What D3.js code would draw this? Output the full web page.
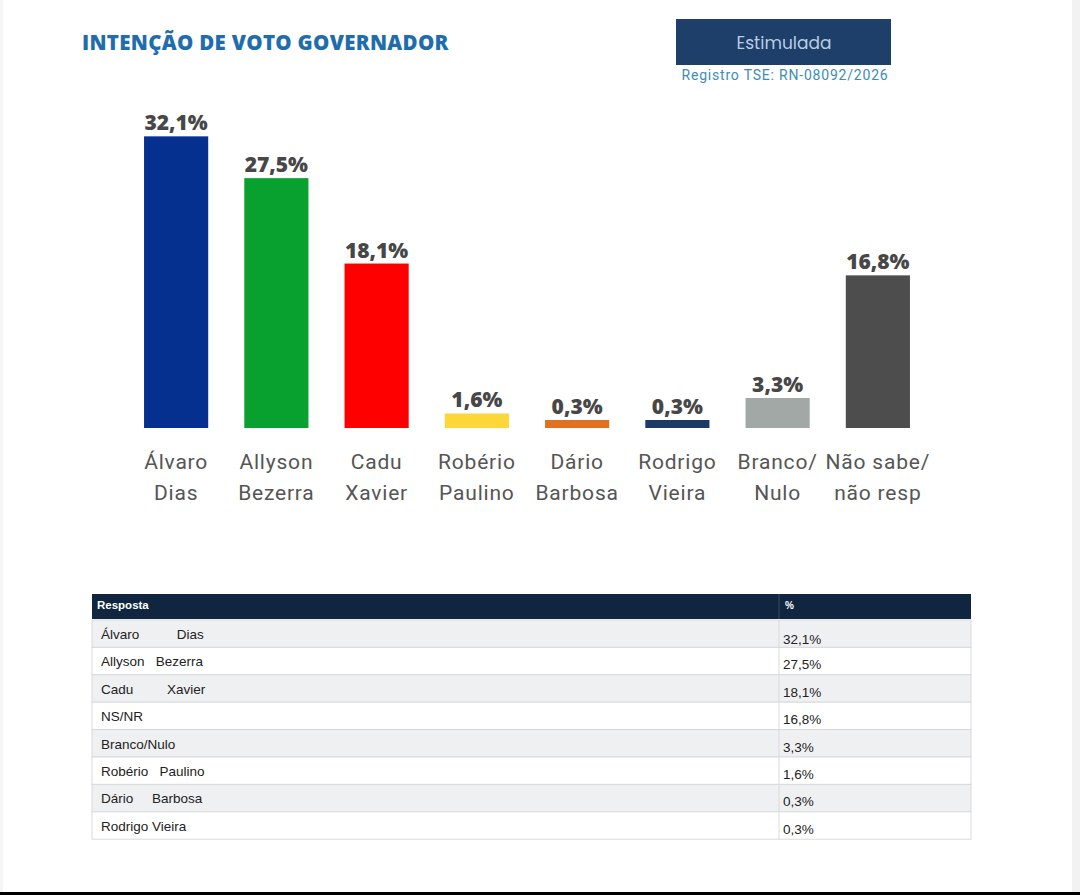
<!DOCTYPE html>
<html>
<head>
<meta charset="utf-8">
<script src="https://cdn.jsdelivr.net/npm/d3@7"></script>
<style>
  html, body { margin: 0; padding: 0; background: #fff; }
  svg { display: block; }
</style>
</head>
<body>
<svg id="chart" width="1080" height="895"></svg>
<script>
// chart data
const CANDIDATES = [
    ['Álvaro', 'Dias'],
    ['Allyson', 'Bezerra'],
    ['Cadu', 'Xavier'],
    ['Robério', 'Paulino'],
    ['Dário', 'Barbosa'],
    ['Rodrigo', 'Vieira'],
    ['Branco/', 'Nulo'],
    ['Não sabe/', 'não resp']
];
const VALUES = [32.1, 27.5, 18.1, 1.6, 0.3, 0.3, 3.3, 16.8];
const COLORS = ['#06308f', '#08a02e', '#ff0000', '#fdd63a', '#e0711f', '#1d3a66', '#a2a8a6', '#4d4d4d'];

// table data
const TABLE_NAMES = ['Álvaro          Dias', 'Allyson   Bezerra', 'Cadu         Xavier', 'NS/NR',
    'Branco/Nulo', 'Robério   Paulino', 'Dário     Barbosa', 'Rodrigo Vieira'];
const TABLE_VALUES = [32.1, 27.5, 18.1, 16.8, 3.3, 1.6, 0.3, 0.3];

const SVG1 = d3.select('#chart');
const BASELINE = 428;
const MIN_BAR = 8;

const ptBR = d3.formatLocale({decimal: ',', thousands: '.', grouping: [3], currency: ['R$', '']});
const fmt = v => ptBR.format('.1f')(v) + '%';

// page frame bits (gray edge on the right, black strip at the bottom)
SVG1.append('rect').attr('x', 1072).attr('y', 0).attr('width', 8).attr('height', 895).style('fill', '#f2f2f2');
SVG1.append('rect').attr('x', 0).attr('y', 0).attr('width', 3).attr('height', 895).style('fill', '#f4f4f4');
SVG1.append('rect').attr('x', 0).attr('y', 892).attr('width', 1080).attr('height', 3).style('fill', '#000');

// title
SVG1.append('text')
    .attr('x', 82)
    .attr('y', 50)
    .text('INTENÇÃO DE VOTO GOVERNADOR')
    .style('font-family', '"Open Sans", sans-serif')
    .style('font-weight', '800')
    .style('font-size', '20.5px')
    .style('letter-spacing', '0.3px')
    .style('fill', '#1f6dad');

// Estimulada badge
SVG1.append('rect')
    .attr('x', 676).attr('y', 19).attr('width', 215).attr('height', 46)
    .style('fill', '#1d3f69');
SVG1.append('text')
    .attr('x', 784).attr('y', 49)
    .attr('text-anchor', 'middle')
    .text('Estimulada')
    .style('font-family', 'Poppins, "Open Sans", sans-serif')
    .style('font-size', '17px')
    .style('fill', '#b9cde2');
SVG1.append('text')
    .attr('x', 785).attr('y', 80)
    .attr('text-anchor', 'middle')
    .text('Registro TSE: RN-08092/2026')
    .style('font-family', 'Roboto, sans-serif')
    .style('font-size', '14px')
    .style('letter-spacing', '0.8px')
    .style('fill', '#3d8db5');

// scales
const X_SCALE = d3.scaleBand()
    .domain(d3.range(VALUES.length))
    .range([126, 928])
    .paddingInner(0.36)
    .paddingOuter(0.18);

const Y_SCALE = d3.scaleLinear()
    .domain([0, 35])
    .range([BASELINE, 110]);

const barTop = v => Math.min(Y_SCALE(v), BASELINE - MIN_BAR);

// bars
SVG1.append('g')
    .attr('id', 'bars')
    .selectAll('rect')
    .data(VALUES)
    .join('rect')
    .attr('x', (d, i) => X_SCALE(i))
    .attr('y', d => barTop(d))
    .attr('width', X_SCALE.bandwidth())
    .attr('height', d => BASELINE - barTop(d))
    .style('fill', (d, i) => COLORS[i]);

// values above bars
SVG1.append('g')
    .attr('id', 'barValues')
    .selectAll('text')
    .data(VALUES)
    .join('text')
    .attr('x', (d, i) => X_SCALE(i) + X_SCALE.bandwidth() / 2)
    .attr('y', d => barTop(d) - 6)
    .attr('text-anchor', 'middle')
    .text(d => fmt(d))
    .style('font-family', '"Open Sans", sans-serif')
    .style('font-weight', '800')
    .style('font-size', '21px')
    .style('fill', '#474747');

// category labels, two lines each
const labels = SVG1.append('g')
    .attr('id', 'categoryLabels')
    .selectAll('text')
    .data(CANDIDATES)
    .join('text')
    .attr('text-anchor', 'middle')
    .style('font-family', 'Roboto, sans-serif')
    .style('font-size', '21px')
    .style('letter-spacing', '0.8px')
    .style('fill', '#555');

labels.selectAll('tspan')
    .data((d, i) => d.map(line => ({line, i})))
    .join('tspan')
    .attr('x', d => X_SCALE(d.i) + X_SCALE.bandwidth() / 2)
    .attr('y', (d, j) => 469 + j * 31)
    .text(d => d.line);

// table
const TABLE_X = 92, TABLE_W = 879, COL_X = 779;
const HEAD_Y = 594, HEAD_H = 25, ROW_H = 27.4;

const table = SVG1.append('g').attr('id', 'table');

table.append('rect')
    .attr('x', TABLE_X).attr('y', HEAD_Y).attr('width', TABLE_W).attr('height', HEAD_H)
    .style('fill', '#10253f');
table.append('line')
    .attr('x1', COL_X).attr('x2', COL_X).attr('y1', HEAD_Y).attr('y2', HEAD_Y + HEAD_H)
    .style('stroke', '#3a4c63');
table.append('text')
    .attr('x', 97).attr('y', HEAD_Y + 15)
    .text('Resposta')
    .style('font-family', '"Liberation Sans", Arial, sans-serif')
    .style('font-weight', 'bold')
    .style('font-size', '11.5px')
    .style('fill', '#fff');
table.append('text')
    .attr('x', 785).attr('y', HEAD_Y + 15)
    .text('%')
    .style('font-family', '"Liberation Sans", Arial, sans-serif')
    .style('font-weight', 'bold')
    .style('font-size', '10px')
    .style('fill', '#fff');

const rows = table.selectAll('g.row')
    .data(TABLE_NAMES)
    .join('g')
    .attr('class', 'row')
    .attr('transform', (d, i) => `translate(0,${HEAD_Y + HEAD_H + 1 + i * ROW_H})`);

rows.append('rect')
    .attr('x', TABLE_X).attr('y', 0).attr('width', TABLE_W).attr('height', ROW_H)
    .style('fill', (d, i) => i % 2 === 0 ? '#eff0f2' : '#fff')
    .style('stroke', '#d9dadc')
    .style('stroke-width', 1);

rows.append('line')
    .attr('x1', COL_X).attr('x2', COL_X).attr('y1', 0).attr('y2', ROW_H)
    .style('stroke', '#d9dadc');

rows.append('text')
    .attr('x', 101).attr('y', 19)
    .attr('xml:space', 'preserve')
    .text(d => d)
    .style('white-space', 'pre')
    .style('font-family', '"Liberation Sans", Arial, sans-serif')
    .style('font-size', '13.5px')
    .style('fill', '#222');

rows.append('text')
    .attr('x', 783).attr('y', (d, i) => i === 0 ? 24 : 22)
    .text((d, i) => fmt(TABLE_VALUES[i]))
    .style('font-family', '"Liberation Sans", Arial, sans-serif')
    .style('font-size', '13.5px')
    .style('fill', '#222');
</script>
</body>
</html>
